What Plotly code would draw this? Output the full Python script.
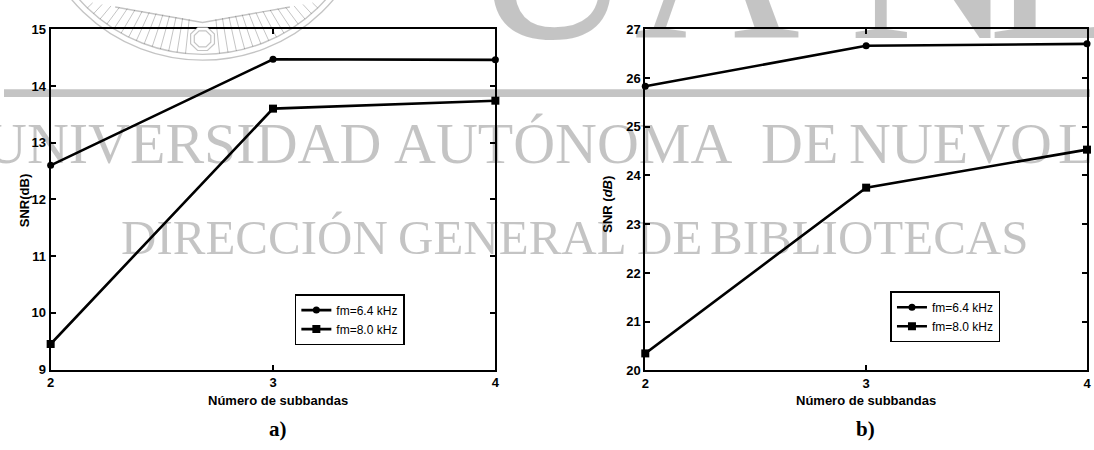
import math
import plotly.graph_objects as go

# ---- data ----
subbands = [2, 3, 4]
x_ticks = [2, 3, 4]

snr_a_fm64 = [12.6, 14.47, 14.46]
snr_a_fm80 = [9.45, 13.6, 13.74]
y_ticks_a = [9, 10, 11, 12, 13, 14, 15]

snr_b_fm64 = [25.83, 26.66, 26.70]
snr_b_fm80 = [20.35, 23.75, 24.53]
y_ticks_b = [20, 21, 22, 23, 24, 25, 26, 27]

series_names = ["fm=6.4 kHz", "fm=8.0 kHz"]

W, H = 1094, 450


def px(x):
    return x / W


def py(y):
    return 1 - y / H


fig = go.Figure()

line_style = dict(color="black", width=2.6)
mk_circle = dict(symbol="circle", size=7, color="black")
mk_square = dict(symbol="square", size=8, color="black")

fig.add_trace(go.Scatter(x=subbands, y=snr_a_fm64, name=series_names[0], mode="lines+markers",
                         line=line_style, marker=mk_circle, cliponaxis=False,
                         xaxis="x", yaxis="y", legend="legend"))
fig.add_trace(go.Scatter(x=subbands, y=snr_a_fm80, name=series_names[1], mode="lines+markers",
                         line=line_style, marker=mk_square, cliponaxis=False,
                         xaxis="x", yaxis="y", legend="legend"))
fig.add_trace(go.Scatter(x=subbands, y=snr_b_fm64, name=series_names[0], mode="lines+markers",
                         line=line_style, marker=mk_circle, cliponaxis=False,
                         xaxis="x2", yaxis="y2", legend="legend2"))
fig.add_trace(go.Scatter(x=subbands, y=snr_b_fm80, name=series_names[1], mode="lines+markers",
                         line=line_style, marker=mk_square, cliponaxis=False,
                         xaxis="x2", yaxis="y2", legend="legend2"))

tick_font = dict(family="Liberation Sans, Arial", size=13, color="black", weight="bold")
axis_common = dict(showline=True, linecolor="black", linewidth=2, mirror="ticks",
                   ticks="inside", ticklen=5, tickwidth=1.5, tickcolor="black",
                   showgrid=False, zeroline=False, tickfont=tick_font, fixedrange=True)

legend_common = dict(xanchor="left", yanchor="top", bordercolor="black", borderwidth=1.5,
                     bgcolor="white", tracegroupgap=0, itemwidth=30,
                     font=dict(family="Liberation Sans, Arial", size=12, color="black"))

fig.update_layout(
    width=W, height=H,
    margin=dict(l=0, r=0, t=0, b=0, pad=0),
    paper_bgcolor="white", plot_bgcolor="white",
    showlegend=True,
    xaxis=dict(domain=[px(47), px(495)], range=[2, 4], tickvals=x_ticks, anchor="y", **axis_common),
    yaxis=dict(domain=[py(375), py(23)], range=[9, 15], tickvals=y_ticks_a, anchor="x", **axis_common),
    xaxis2=dict(domain=[px(646), px(1091)], range=[2, 4], tickvals=x_ticks, anchor="y2", **axis_common),
    yaxis2=dict(domain=[py(376), py(23)], range=[20, 27], tickvals=y_ticks_b, anchor="x2", **axis_common),
    legend=dict(x=px(293), y=py(297), **legend_common),
    legend2=dict(x=px(893), y=py(294), **legend_common),
)

label_font = dict(family="Liberation Sans, Arial", size=13, color="black", weight="bold")
annotations = [
    dict(text="SNR(dB)", x=px(20), y=py(200), textangle=-90, font=label_font),
    dict(text="SNR (<i>dB</i>)", x=px(608), y=py(204), textangle=-90, font=label_font),
    dict(text="Número de subbandas", x=px(276), y=py(407), font=label_font),
    dict(text="Número de subbandas", x=px(868), y=py(407), font=label_font),
    dict(text="a)", x=px(276), y=py(437),
         font=dict(family="Liberation Serif", size=21, color="black", weight="bold")),
    dict(text="b)", x=px(868), y=py(437),
         font=dict(family="Liberation Serif", size=21, color="black", weight="bold")),
]

# ---- library watermark ----
wm = "rgba(0,0,0,0.23)"
wm_font = "Liberation Serif, Times New Roman, serif"
big_letters = [("U", 552), ("A", 718), ("N", 935), ("L", 1062)]
for ch, cx in big_letters:
    annotations.append(dict(text=ch, x=px(cx), y=py(-48), font=dict(family=wm_font, size=230, color=wm)))

line1 = [("UNIVERSIDAD", 180), ("AUTÓNOMA", 563), ("DE", 801), ("NUEVO", 953), ("LEÓN", 1140)]
for word, cx in line1:
    annotations.append(dict(text=word, x=px(cx), y=py(141), font=dict(family=wm_font, size=58, color=wm)))

line2 = [("DIRECCIÓN", 252), ("GENERAL", 512), ("DE", 670), ("BIBLIOTECAS", 872)]
for word, cx in line2:
    annotations.append(dict(text=word, x=px(cx), y=py(238), font=dict(family=wm_font, size=49, color=wm)))

for a in annotations:
    a.update(xref="paper", yref="paper", showarrow=False, xanchor="center", yanchor="middle")
fig.update_layout(annotations=annotations)

shapes = []
# horizontal rule of the seal
shapes.append(dict(type="rect", xref="paper", yref="paper", x0=px(0), x1=px(W), y0=py(93), y1=py(85),
                   fillcolor=wm, line=dict(width=0)))
# seal arcs
cx0, cy0 = 200, -115
for r in (170, 164):
    shapes.append(dict(type="circle", xref="paper", yref="paper",
                       x0=px(cx0 - r), x1=px(cx0 + r), y0=py(cy0 + r), y1=py(cy0 - r),
                       line=dict(color=wm, width=1.4)))
# chevron
shapes.append(dict(type="path", xref="paper", yref="paper",
                   path=f"M {px(112)} {py(0)} L {px(200)} {py(16)} L {px(288)} {py(0)}",
                   line=dict(color=wm, width=1.4)))
# radial hatching
for k in range(-15, 16):
    if abs(k) < 2:
        continue
    th = math.radians(k * 3)
    t0 = 130 / (math.cos(th) + 0.1744 * abs(math.sin(th)))
    t1 = 164
    xa, ya = cx0 + t0 * math.sin(th), cy0 + t0 * math.cos(th)
    xb, yb = cx0 + t1 * math.sin(th), cy0 + t1 * math.cos(th)
    shapes.append(dict(type="line", xref="paper", yref="paper",
                       x0=px(xa), y0=py(ya), x1=px(xb), y1=py(yb),
                       line=dict(color=wm, width=1)))
# octagon
for r in (13, 9):
    pts = []
    for i in range(8):
        ang = math.radians(22.5 + 45 * i)
        pts.append((200 + r * math.cos(ang), 33 + r * math.sin(ang)))
    path = "M " + " L ".join(f"{px(x)} {py(y)}" for x, y in pts) + " Z"
    shapes.append(dict(type="path", xref="paper", yref="paper", path=path,
                       fillcolor="white" if r == 13 else None, line=dict(color=wm, width=1.2)))

fig.update_layout(shapes=shapes)

fig.write_html("out.html")
